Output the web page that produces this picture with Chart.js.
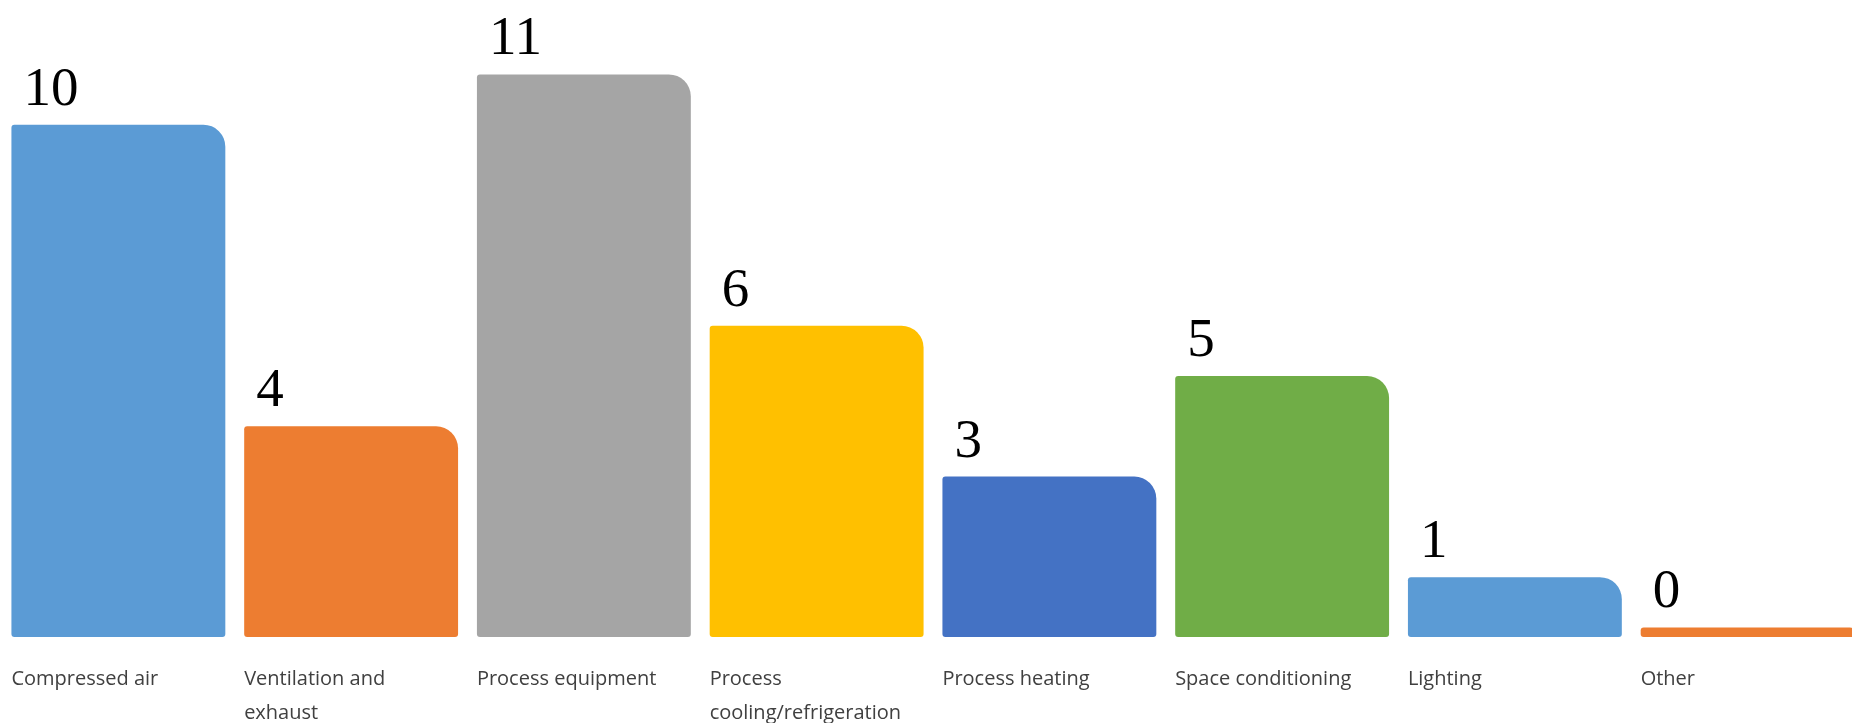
<!DOCTYPE html>
<html>
<head>
<meta charset="utf-8">
<script src="https://cdn.jsdelivr.net/npm/chart.js@4.4.0/dist/chart.umd.min.js"></script>
<style>
  html, body { margin: 0; padding: 0; background: #ffffff; overflow: hidden; width: 1852px; height: 723px; }
  #wrap { position: absolute; left: 0; top: 0; width: 1864px; height: 755px; }
</style>
</head>
<body>
<div id="wrap"><canvas id="c"></canvas></div>
<script>
const categories = [
  "Compressed air",
  ["Ventilation and", "exhaust"],
  "Process equipment",
  ["Process", "cooling/refrigeration"],
  "Process heating",
  "Space conditioning",
  "Lighting",
  "Other"
];
const counts = [10, 4, 11, 6, 3, 5, 1, 0];
const barColors = ["#5B9BD5", "#ED7D31", "#A5A5A5", "#FFC000", "#4472C4", "#70AD47", "#5B9BD5", "#ED7D31"];
const axisMin = -0.19;
const axisMax = 12.48;

const valueLabels = {
  id: 'valueLabels',
  afterDatasetsDraw(chart) {
    const ctx = chart.ctx;
    const meta = chart.getDatasetMeta(0);
    ctx.save();
    ctx.font = '55px "Liberation Serif", "Times New Roman", serif';
    ctx.fillStyle = '#000000';
    ctx.textAlign = 'left';
    ctx.textBaseline = 'alphabetic';
    meta.data.forEach((el, i) => {
      const left = el.x - el.width / 2;
      ctx.fillText(String(chart.data.datasets[0].data[i]), left + 12, el.y - 20);
    });
    ctx.restore();
  }
};

new Chart(document.getElementById('c'), {
  type: 'bar',
  data: {
    labels: categories,
    datasets: [{
      data: counts,
      backgroundColor: barColors,
      base: axisMin,
      borderSkipped: false,
      borderWidth: 0,
      borderRadius: { topLeft: 3, topRight: 22, bottomLeft: 3, bottomRight: 3 },
      categoryPercentage: 1.0,
      barPercentage: 0.919
    }]
  },
  options: {
    responsive: true,
    maintainAspectRatio: false,
    animation: false,
    layout: { padding: { left: 2, right: 0, top: 0, bottom: 0 } },
    plugins: { legend: { display: false }, tooltip: { enabled: false } },
    scales: {
      x: {
        grid: { display: false, drawTicks: false },
        border: { display: false },
        ticks: {
          align: 'start',
          labelOffset: -107,
          padding: 25,
          maxRotation: 0,
          autoSkip: false,
          color: '#404040',
          font: { family: '"Open Sans", "Noto Sans", sans-serif', size: 20, lineHeight: 1.7 }
        }
      },
      y: {
        display: false,
        min: axisMin,
        max: axisMax
      }
    }
  },
  plugins: [valueLabels]
});
</script>
</body>
</html>
